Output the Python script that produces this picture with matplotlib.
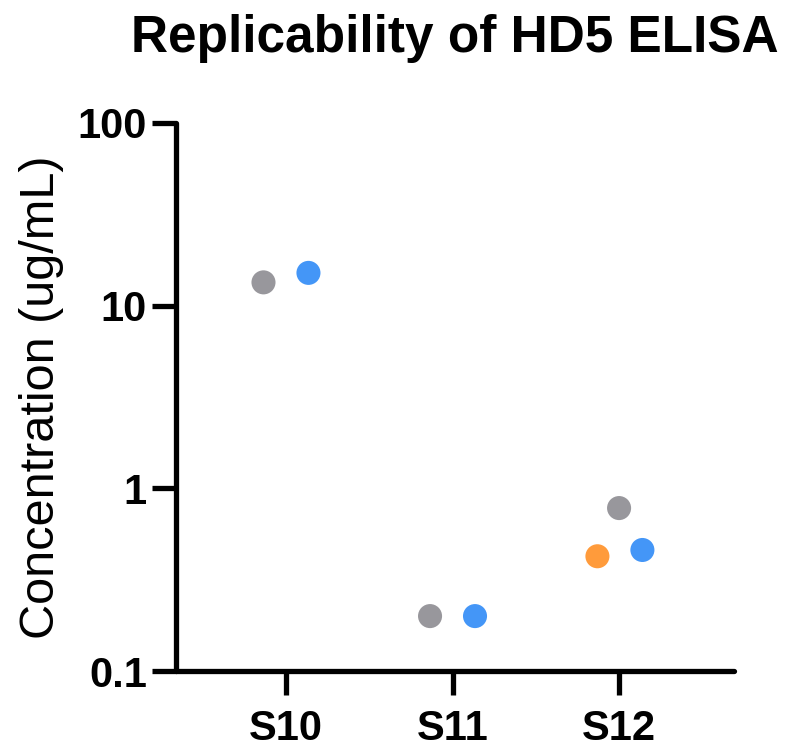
import matplotlib
matplotlib.use("Agg")
import matplotlib.pyplot as plt
import numpy as np
from matplotlib.ticker import FixedLocator, NullLocator, FixedFormatter

plt.rcParams['font.family'] = ['Liberation Sans', 'DejaVu Sans']

# Data
categories = ["S10", "S11", "S12"]
gray_vals = [13.4, 0.2, 0.78]
blue_vals = [15.1, 0.2, 0.46]
orange_vals = [np.nan, np.nan, 0.425]
y_ticks = [0.1, 1, 10, 100]
y_tick_labels = ["0.1", "1", "10", "100"]

# Layout (horizontal offsets within each category)
gray_off = [-0.135, -0.135, 0.0]
blue_off = [0.135, 0.135, 0.14]
orange_off = [0.0, 0.0, -0.13]

colors = {"gray": "#98979c", "blue": "#4496f7", "orange": "#ff9b3b"}

fig = plt.figure(figsize=(7.93, 7.49), dpi=100)
ax = fig.add_axes([0.222, 0.104, 0.7036, 0.732])

x = np.arange(len(categories))
ms = 300
for vals, off, c in [(gray_vals, gray_off, colors["gray"]),
                     (orange_vals, orange_off, colors["orange"]),
                     (blue_vals, blue_off, colors["blue"])]:
    ax.scatter(x + np.array(off), vals, s=ms, color=c, edgecolors='none', zorder=3, clip_on=False)

ax.set_yscale('log')
ax.set_ylim(0.1, 100)
ax.set_xlim(-0.66, 2.69)
ax.yaxis.set_major_locator(FixedLocator(y_ticks))
ax.yaxis.set_major_formatter(FixedFormatter(y_tick_labels))
ax.yaxis.set_minor_locator(NullLocator())
ax.set_xticks(x)
ax.set_xticklabels(categories)

for s in ['top', 'right']:
    ax.spines[s].set_visible(False)
for s in ['left', 'bottom']:
    ax.spines[s].set_linewidth(3.8)
    ax.spines[s].set_capstyle('round')

ax.tick_params(axis='both', width=3.8, length=17, labelsize=30)
ax.tick_params(axis='x', pad=10)
ax.tick_params(axis='y', pad=4)
for lab in ax.get_xticklabels() + ax.get_yticklabels():
    lab.set_fontweight('bold')

ax.set_ylabel("Concentration (ug/mL)", fontsize=35, labelpad=10)
fig.text(0.573, 0.948, "Replicability of HD5 ELISA", fontsize=37, fontweight='bold',
         ha='center', va='center')

fig.savefig("out.png", dpi=100)
